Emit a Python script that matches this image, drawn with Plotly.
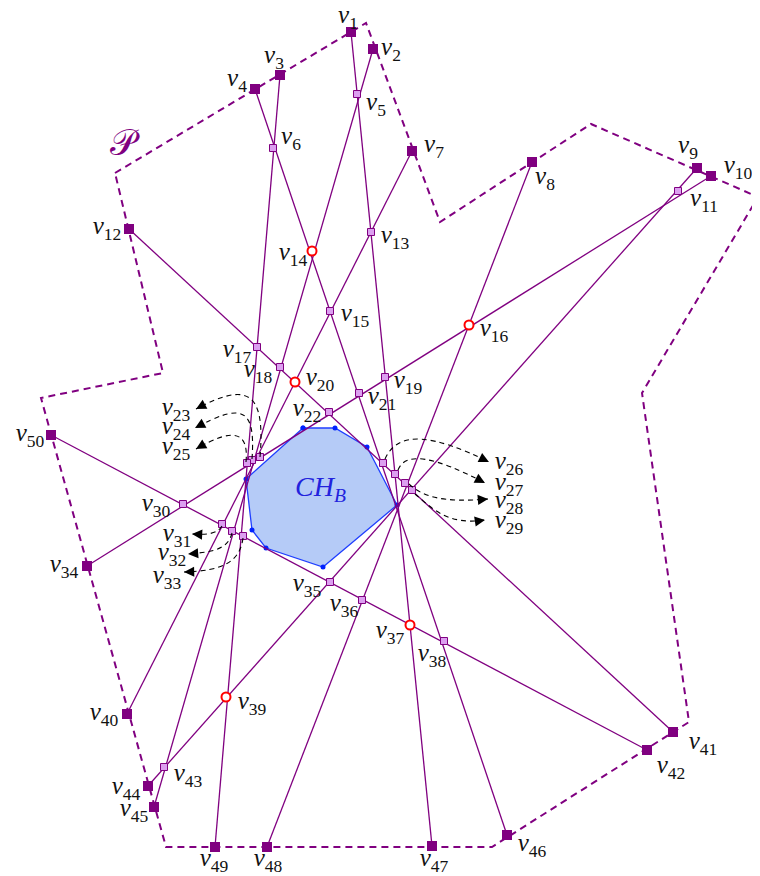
import plotly.graph_objects as go

# ---- data: vertex positions (pixel-like coordinates, y downward) ----
names = [f"v{i}" for i in range(1, 51)]
vx = [351, 373, 280, 255, 357, 273, 412, 532, 697, 711,
      678, 129, 371, 312, 330, 469, 257, 280, 385, 295,
      359, 329, 260, 252, 247, 383, 395, 405, 412, 183,
      222, 232, 243, 87, 330, 362, 410, 444, 226, 127,
      673, 647, 164, 148, 154, 507, 432, 267, 215, 51]
vy = [32, 49, 75, 89, 94, 148, 151, 162, 168, 176,
      191, 229, 232, 251, 311, 325, 347, 367, 377, 382,
      393, 412, 457, 460, 463, 463, 474, 483, 490, 504,
      524, 531, 536, 566, 582, 600, 625, 641, 697, 714,
      732, 750, 767, 786, 807, 835, 846, 847, 847, 435]
# label positions
lx = [348, 391, 274, 237, 376, 291, 434, 545, 688, 738,
      704, 107, 395, 293, 355, 494, 237, 258, 408, 320,
      382, 307, 176, 176, 176, 509, 509, 509, 509, 156,
      177, 172, 167, 64, 307, 344, 390, 432, 252, 104,
      703, 671, 188, 126, 134, 532, 434, 268, 214, 30]
ly = [17, 49, 57, 80, 104, 138, 146, 178, 147, 167,
      200, 228, 237, 254, 315, 330, 351, 371, 382, 379,
      398, 410, 409, 428, 448, 463, 484, 502, 522, 505,
      535, 554, 577, 566, 585, 605, 632, 655, 703, 714,
      743, 767, 775, 788, 810, 845, 860, 860, 860, 435]

boundary_ids = [1, 2, 3, 4, 7, 8, 9, 10, 12, 34, 40, 41, 42, 44, 45, 46, 47, 48, 49, 50]
red_ids = [14, 16, 20, 37, 39]
inner_ids = [i for i in range(1, 51) if i not in boundary_ids and i not in red_ids]

chords = [(1, 47), (2, 45), (3, 49), (4, 46), (7, 40), (8, 48), (9, 44), (10, 34), (12, 41), (50, 42)]

poly_x = [115, 366, 440, 591, 758, 642, 689, 492, 166, 41, 163, 115]
poly_y = [173, 23, 222, 124, 197, 393, 722, 847, 847, 398, 373, 173]

hull_x = [303, 335, 367, 397, 323, 266, 252, 246, 303]
hull_y = [428, 428, 447, 505, 567, 548, 530, 479, 428]

# dashed pointer curves: start, control1, control2, tip
curves = [
    [(260, 457), (266, 388), (245, 383), (196, 409)],
    [(252, 459), (256, 405), (240, 404), (195, 428)],
    [(246, 462), (249, 430), (232, 428), (196, 449)],
    [(385, 459), (398, 430), (432, 434), (489, 462)],
    [(398, 470), (405, 452), (432, 455), (485, 483)],
    [(409, 484), (422, 496), (440, 503), (488, 499)],
    [(415, 494), (430, 506), (446, 526), (485, 520)],
    [(222, 526), (218, 533), (210, 535), (192, 534)],
    [(232, 533), (228, 549), (214, 552), (188, 554)],
    [(243, 538), (240, 561), (224, 571), (184, 572)],
]

PURPLE = "#800080"
fig = go.Figure()

# polygon P
fig.add_trace(go.Scatter(x=poly_x, y=poly_y, mode="lines",
                         line=dict(color=PURPLE, width=2, dash="7px,5px"),
                         hoverinfo="skip", showlegend=False))
# convex hull
fig.add_trace(go.Scatter(x=hull_x, y=hull_y, mode="lines+markers", fill="toself",
                         fillcolor="rgba(120,160,240,0.55)",
                         line=dict(color="#1f3fff", width=1.3),
                         marker=dict(color="#0022ff", size=5),
                         hoverinfo="skip", showlegend=False))
# chords
for a, b in chords:
    fig.add_trace(go.Scatter(x=[vx[a - 1], vx[b - 1]], y=[vy[a - 1], vy[b - 1]], mode="lines",
                             line=dict(color=PURPLE, width=1.3),
                             hoverinfo="skip", showlegend=False))

# dashed curves
shapes = []
annotations = []
for (s, c1, c2, e) in curves:
    path = f"M {s[0]},{s[1]} C {c1[0]},{c1[1]} {c2[0]},{c2[1]} {e[0]},{e[1]}"
    shapes.append(dict(type="path", path=path, xref="x", yref="y",
                       line=dict(color="black", width=1.1, dash="5px,4px")))
    dx, dy = e[0] - c2[0], e[1] - c2[1]
    n = (dx * dx + dy * dy) ** 0.5
    annotations.append(dict(x=e[0], y=e[1], ax=e[0] - dx / n * 6, ay=e[1] - dy / n * 6,
                            xref="x", yref="y", axref="x", ayref="y", text="",
                            showarrow=True, arrowhead=2, arrowsize=1.7, arrowwidth=1.2,
                            arrowcolor="black", standoff=0))

# inner squares
fig.add_trace(go.Scatter(x=[vx[i - 1] for i in inner_ids], y=[vy[i - 1] for i in inner_ids],
                         mode="markers",
                         marker=dict(symbol="square", size=7, color="#dc9ff0",
                                     line=dict(color=PURPLE, width=1)),
                         hoverinfo="skip", showlegend=False))
# red circles
fig.add_trace(go.Scatter(x=[vx[i - 1] for i in red_ids], y=[vy[i - 1] for i in red_ids],
                         mode="markers",
                         marker=dict(symbol="circle", size=9, color="white",
                                     line=dict(color="red", width=2)),
                         hoverinfo="skip", showlegend=False))
# boundary squares
fig.add_trace(go.Scatter(x=[vx[i - 1] for i in boundary_ids], y=[vy[i - 1] for i in boundary_ids],
                         mode="markers",
                         marker=dict(symbol="square", size=10, color=PURPLE,
                                     line=dict(width=0)),
                         hoverinfo="skip", showlegend=False))

# labels
labels = [f"<i>v</i><sub>{i}</sub>" for i in range(1, 51)]
fig.add_trace(go.Scatter(x=lx, y=ly, mode="text", text=labels,
                         textfont=dict(family="Liberation Serif", size=25, color="#111"),
                         textposition="middle center", hoverinfo="skip", showlegend=False))

annotations.append(dict(x=125, y=142, xref="x", yref="y", text="𝒫", showarrow=False,
                        font=dict(family="DejaVu Serif", size=36, color=PURPLE)))
annotations.append(dict(x=320, y=488, xref="x", yref="y", text="<i>CH</i><sub><i>B</i></sub>",
                        showarrow=False,
                        font=dict(family="Liberation Serif", size=28, color="#2222dd")))

# the page body has an 8px default margin: shift ranges so data units equal page pixels
fig.update_layout(width=760, height=876, margin=dict(l=0, r=0, t=0, b=0),
                  plot_bgcolor="white", paper_bgcolor="white",
                  shapes=shapes, annotations=annotations,
                  xaxis=dict(range=[8, 768], visible=False, fixedrange=True),
                  yaxis=dict(range=[884, 8], visible=False, fixedrange=True))
fig.write_html("out.html")
